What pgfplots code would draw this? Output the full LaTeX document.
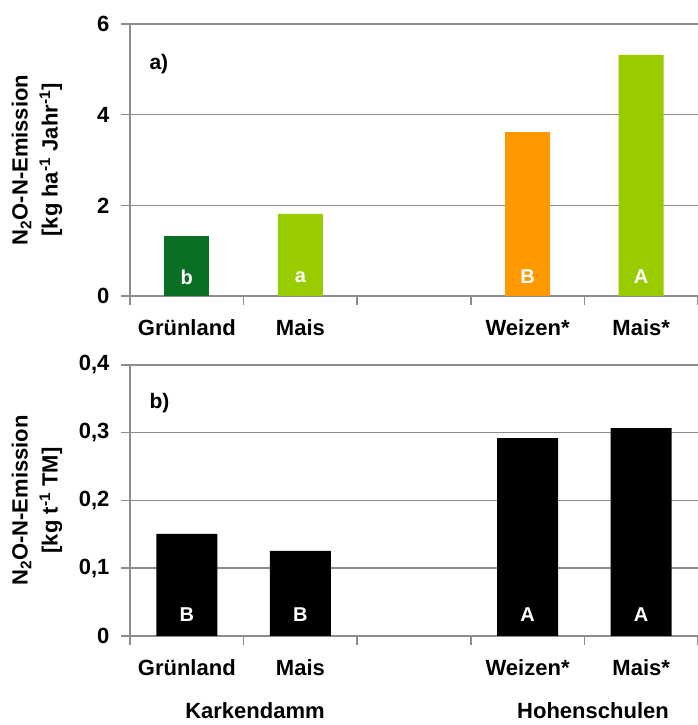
\documentclass[border=0pt]{standalone}
\usepackage{pgfplots}
\pgfplotsset{compat=1.18}
\usepackage{fontspec}
\setmainfont{Liberation Sans}
\definecolor{dkgreen}{RGB}{10,110,35}
\definecolor{ltgreen}{RGB}{153,204,0}
\definecolor{orng}{RGB}{255,153,0}
\definecolor{gridgray}{RGB}{140,140,140}
\newcommand{\lblfont}{\fontsize{22}{26}\selectfont\bfseries}
\newcommand{\barfont}{\fontsize{20}{22}\selectfont\bfseries}
\pgfplotsset{
  common/.style={
    scale only axis, width=568pt,
    xmin=-0.5, xmax=4.5, ymin=0,
    axis x line=bottom, axis y line=left,
    axis line style={-, gridgray, line width=1.5pt},
    ymajorgrids, grid style={gridgray, line width=1.5pt},
    xtick={-0.5,0.5,1.5,2.5,3.5,4.5}, xticklabels={},
    extra x ticks={0,1,3,4},
    extra x tick labels={Grünland,Mais,Weizen*,Mais*},
    extra x tick style={major tick length=0pt, xmajorgrids=false,
      xticklabel style={yshift=-20pt}},
    tick align=outside, major tick length=9pt,
    tick style={gridgray, line width=1.5pt},
    /pgf/number format/assume math mode=true,
    /pgf/number format/.cd, use comma, fixed, precision=1, /pgfplots/.cd,
    ticklabel style={font=\lblfont, text=black},
    yticklabel style={xshift=-8pt},
    ylabel style={at={(rel axis cs:-0.1637,0.5)}, anchor=center, align=center,
      font=\fontsize{22}{30}\selectfont\bfseries},
  }
}
\begin{document}
\begin{tikzpicture}
\path[use as bounding box] (0pt,0pt) rectangle (698pt,725pt);
\begin{axis}[common, at={(130pt,429pt)}, anchor=south west, height=272pt,
  ymax=6, ytick={0,2,4,6},
  ylabel={\bfseries N\textsubscript{2}O-N-Emission\\\bfseries{[}kg ha\textsuperscript{-1} Jahr\textsuperscript{-1}]}]
  \addplot[ybar, bar width=45pt, bar shift=0pt, fill=dkgreen, draw=none] coordinates {(0,1.32)};
  \addplot[ybar, bar width=45pt, bar shift=0pt, fill=ltgreen, draw=none] coordinates {(1,1.81) (4,5.32)};
  \addplot[ybar, bar width=45pt, bar shift=0pt, fill=orng, draw=none] coordinates {(3,3.62)};
  \node[text=white, font=\barfont] at (axis cs:0,0.42) {b};
  \node[text=white, font=\barfont] at (axis cs:1,0.42) {a};
  \node[text=white, font=\barfont] at (axis cs:3,0.42) {B};
  \node[text=white, font=\barfont] at (axis cs:4,0.42) {A};
  \node[anchor=west, inner sep=0pt, font=\fontsize{21}{24}\selectfont\bfseries] at (axis cs:-0.33,5.12) {a)};
\end{axis}
\begin{axis}[common, at={(130pt,89pt)}, anchor=south west, height=271pt,
  ymax=0.4, ytick={0,0.1,0.2,0.3,0.4},
  ylabel={\bfseries N\textsubscript{2}O-N-Emission\\\bfseries{[}kg t\textsuperscript{-1} TM]}]
  \addplot[ybar, bar width=61pt, bar shift=0pt, fill=black, draw=none] coordinates {(0,0.1506) (1,0.1255) (3,0.292) (4,0.307)};
  \node[text=white, font=\barfont] at (axis cs:0,0.031) {B};
  \node[text=white, font=\barfont] at (axis cs:1,0.031) {B};
  \node[text=white, font=\barfont] at (axis cs:3,0.031) {A};
  \node[text=white, font=\barfont] at (axis cs:4,0.031) {A};
  \node[anchor=west, inner sep=0pt, font=\fontsize{21}{24}\selectfont\bfseries] at (axis cs:-0.33,0.344) {b)};
\end{axis}
\node[font=\lblfont] at (255pt,14pt) {Karkendamm};
\node[font=\lblfont] at (593pt,14pt) {Hohenschulen};
\end{tikzpicture}
\end{document}
